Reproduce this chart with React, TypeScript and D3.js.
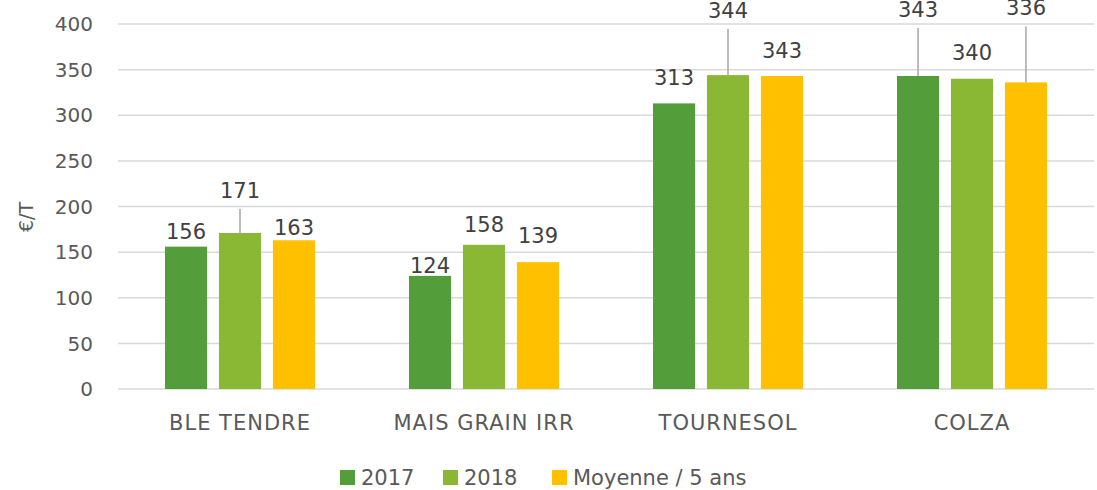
import React from 'react';
import * as d3 from 'd3';

const categories = ['BLE TENDRE', 'MAIS GRAIN IRR', 'TOURNESOL', 'COLZA'];
const seriesNames = ['2017', '2018', 'Moyenne / 5 ans'];
const values2017 = [156, 124, 313, 343];
const values2018 = [171, 158, 344, 340];
const valuesMoy = [163, 139, 343, 336];
const yTicks = [0, 50, 100, 150, 200, 250, 300, 350, 400];

const colors = ['#539d3a', '#8bb834', '#ffc000'];

// how far each value label sits above its bar (px), per series then category
const labelLift = [
    [8, 3, 18, 59],
    [35, 13, 57, 19],
    [5, 19, 18, 67],
];
// labels that get a leader line down to the bar
const leaders = ['0-1', '2-1', '3-0', '3-2'];

const font = '"DejaVu Sans", Verdana, sans-serif';

export default function App() {
    const width = 1097;
    const height = 490;
    const left = 118;
    const right = 1094;
    const top = 24;
    const bottom = 389;

    const series = [values2017, values2018, valuesMoy];

    const x = d3.scaleBand().domain(categories).range([left, right]).paddingInner(0).paddingOuter(0);
    const x1 = d3.scaleBand().domain(seriesNames).range([47, 197]).paddingInner(0.22).paddingOuter(0);
    const y = d3.scaleLinear().domain([0, 400]).range([bottom, top]);

    return (
        <svg width={width} height={height} style={{ position: 'absolute', left: 0, top: 0, background: '#fff' }} fontFamily={font}>
            <g>
                {yTicks.map((t) => (
                    <g key={t}>
                        <line x1={left} x2={right} y1={y(t)} y2={y(t)} stroke="#d9d9d9" strokeWidth={1.5} />
                        <text x={93} y={y(t)} dy="0.36em" textAnchor="end" fontSize={20} fill="#595959">{t}</text>
                    </g>
                ))}
            </g>
            <text transform={`translate(33,217) rotate(-90)`} textAnchor="middle" fontSize={19} fill="#595959">€/T</text>
            {categories.map((c, ci) => (
                <g key={c}>
                    {series.map((vals, si) => {
                        const bx = x(c)! + x1(seriesNames[si])!;
                        const bw = x1.bandwidth();
                        const by = y(vals[ci]);
                        const ty = by - labelLift[si][ci];
                        const lead = leaders.includes(`${ci}-${si}`);
                        return (
                            <g key={si}>
                                <rect x={bx} y={by} width={bw} height={bottom - by} fill={colors[si]} />
                                {lead && (
                                    <line x1={bx + bw / 2} x2={bx + bw / 2} y1={ty + 11} y2={by} stroke="#a6a6a6" strokeWidth={1.5} />
                                )}
                                <text x={bx + bw / 2} y={ty} textAnchor="middle" fontSize={21} fill="#404040">{vals[ci]}</text>
                            </g>
                        );
                    })}
                    <text x={x(c)! + x.bandwidth() / 2} y={430} textAnchor="middle" fontSize={21} letterSpacing={1} fill="#595959">{c}</text>
                </g>
            ))}
            <g>
                {seriesNames.map((s, i) => {
                    const lx = [340, 443, 552][i];
                    return (
                        <g key={s}>
                            <rect x={lx} y={470} width={15} height={15} fill={colors[i]} />
                            <text x={lx + 21} y={485} fontSize={21} fill="#595959">{s}</text>
                        </g>
                    );
                })}
            </g>
        </svg>
    );
}
